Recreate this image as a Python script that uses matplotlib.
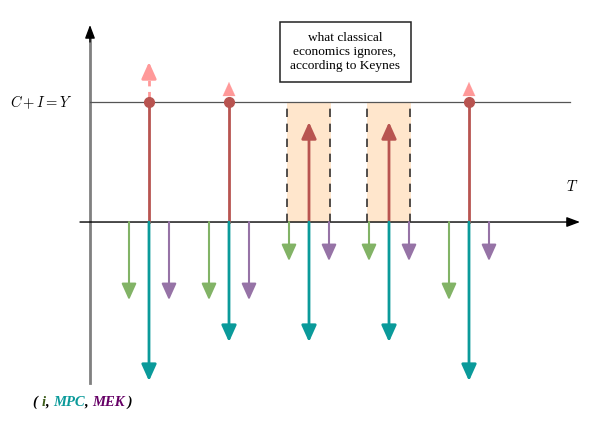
import matplotlib
matplotlib.use("Agg")
import matplotlib.pyplot as plt
from matplotlib.patches import Rectangle
from matplotlib.offsetbox import TextArea, HPacker, AnnotationBbox

# periods on the T axis and the size of each shock
periods = [1, 2, 3, 4, 5]
output_level = 1.0                       # C + I = Y
red_up = [1.0, 1.0, 0.833, 0.833, 1.0]   # investment / output push
pink_tip = [1.333, 1.167, None, None, 1.167]
green_i = [-0.65, -0.65, -0.325, -0.325, -0.65]
teal_mpc = [-1.325, -1.0, -1.0, -1.0, -1.325]
purple_mek = [-0.65, -0.65, -0.325, -0.325, -0.325]
gap_periods = [3, 4]                     # what classical economics ignores

RED = "#b85450"
PINK = "#ff9999"
GREEN = "#82b366"
TEAL = "#0a9a9a"
PURPLE = "#9673a6"
FILL = "#ffe6cc"

plt.rcParams["mathtext.fontset"] = "cm"

fig = plt.figure(figsize=(6.02, 4.30), dpi=100)
ax = fig.add_axes([0, 0, 1, 1])
ax.set_xlim(-0.8625, 6.6625)
ax.set_ylim(-1.733, 1.85)
ax.axis("off")


def arrow(start, end, color, lw=1.5, hw=0.45, hl=1.0, z=3):
    ax.annotate("", xy=end, xytext=start,
                arrowprops=dict(arrowstyle="-|>,head_width=%s,head_length=%s" % (hw, hl),
                                color=color, lw=lw, shrinkA=0, shrinkB=0),
                zorder=z)


# axes
y_axis_x = 0.2625
ax.plot([y_axis_x, y_axis_x], [-1.342, 1.55], color="#808080", lw=2, zorder=2)
arrow((y_axis_x, 1.5), (y_axis_x, 1.642), "black", lw=1, hw=0.3, hl=0.8)
arrow((0.1375, 0), (6.3875, 0), "black", lw=1, hw=0.3, hl=0.8, z=2)
ax.plot([y_axis_x, 6.2625], [output_level, output_level], color="#555555", lw=0.9, zorder=2)

ax.text(0.05, output_level, r"$C + I = Y$", fontsize=10.5, ha="right", va="center")
ax.text(6.2875, 0.3, r"$T$", fontsize=10.5, ha="center", va="center")

# shaded gaps
for p in gap_periods:
    ax.add_patch(Rectangle((p - 0.27, 0), 0.54, output_level, facecolor=FILL,
                           edgecolor="none", zorder=1))
    for edge in (p - 0.27, p + 0.265):
        ax.plot([edge, edge], [0, output_level], color="#333333", lw=1.2,
                linestyle=(0, (5, 4)), zorder=2)

# shocks
for p, r, pk, g, tl, pu in zip(periods, red_up, pink_tip, green_i, teal_mpc, purple_mek):
    if r >= output_level:
        ax.plot([p, p], [0, r], color=RED, lw=2, zorder=3)
        ax.plot([p], [r], "o", color=RED, markersize=7, zorder=4)
    else:
        arrow((p, 0), (p, r), RED, lw=2)
    if pk is not None:
        if pk - r > 0.2:
            ax.plot([p, p], [r + 0.045, pk - 0.09], color=PINK, lw=2,
                    linestyle=(0, (2.0, 2.0)), zorder=3)
            arrow((p, pk - 0.11), (p, pk), PINK, lw=2)
        else:
            arrow((p, pk - 0.1), (p, pk), PINK, lw=0.1)
    arrow((p - 0.25, 0), (p - 0.25, g), GREEN)
    arrow((p, 0), (p, tl), TEAL, lw=2)
    arrow((p + 0.25, 0), (p + 0.25, pu), PURPLE)

# note box
ax.add_patch(Rectangle((2.6375, 1.1667), 1.6375, 0.5, facecolor="white",
                       edgecolor="#222222", lw=1.1, zorder=5))
ax.text(3.45, 1.4167, "what classical\neconomics ignores,\naccording to Keynes",
        family="Liberation Serif", fontsize=9.6, ha="center", va="center",
        linespacing=1.2, zorder=6)

# bottom label
bold = dict(family="Liberation Serif", fontsize=10.5, style="italic", weight="bold")
pieces = [("( ", "black"), ("i", "#3d5c1a"), (", ", "black"), ("MPC", TEAL),
          (", ", "black"), ("MEK", "#660066"), (" )", "black")]
box = HPacker(children=[TextArea(s, textprops=dict(color=c, **bold)) for s, c in pieces],
              sep=0, pad=0, align="baseline")
ax.add_artist(AnnotationBbox(box, (-0.45, -1.5), frameon=False, box_alignment=(0, 0.5)))

fig.savefig("out.png", dpi=100)
